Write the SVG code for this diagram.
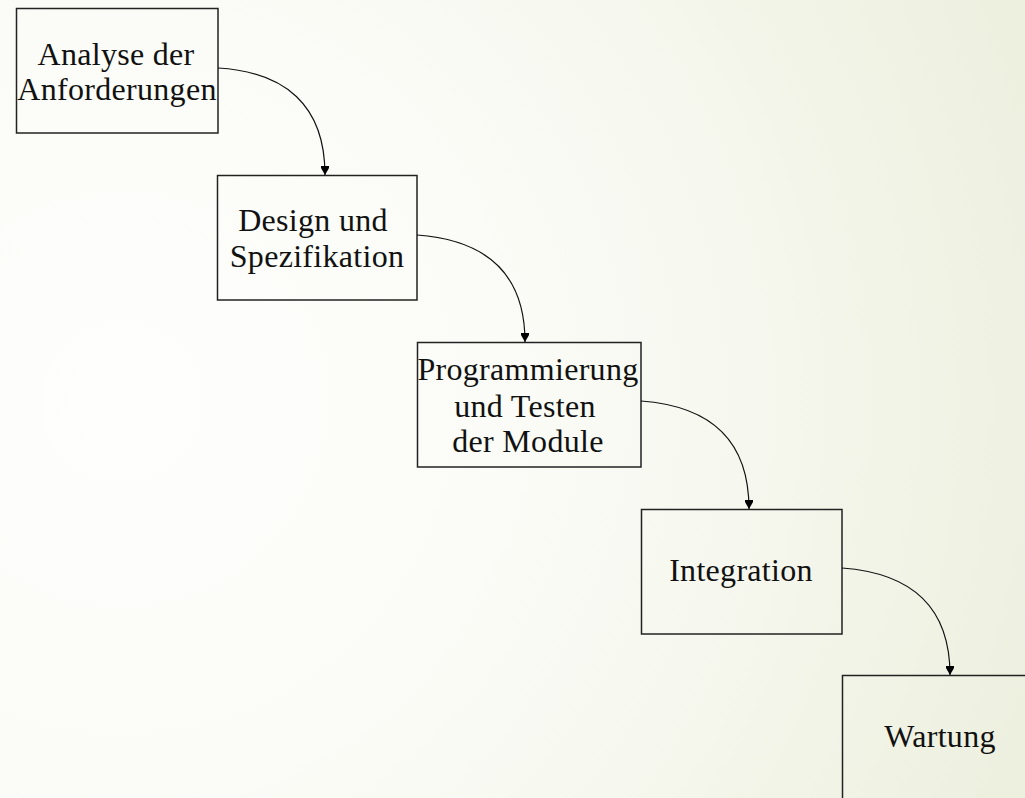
<svg xmlns="http://www.w3.org/2000/svg" width="1025" height="798" viewBox="0 0 1025 798">
<defs>
<radialGradient id="bg" gradientUnits="userSpaceOnUse" cx="120" cy="400" r="960">
<stop offset="0" stop-color="#fefefd"/>
<stop offset="0.4" stop-color="#fbfcf7"/>
<stop offset="0.7" stop-color="#f5f6ec"/>
<stop offset="1" stop-color="#edf0df"/>
</radialGradient>
<marker id="arr" markerWidth="10" markerHeight="10" refX="9" refY="5" orient="auto" markerUnits="userSpaceOnUse" viewBox="0 0 10 10">
<path d="M0,1 L2,1 L9,5 L2,9 L0,9 Z" fill="#000"/>
</marker>
<style>
.box{fill:none;stroke:#222;stroke-width:1.5}
.lbl{font-family:"Liberation Serif","Times New Roman",serif;font-size:32px;letter-spacing:0.3px;fill:#111;text-anchor:middle}
.edge{fill:none;stroke:#111;stroke-width:1.2}
</style>
</defs>
<rect x="0" y="0" width="1025" height="798" fill="url(#bg)"/>
<g id="n1"><rect class="box" x="16.5" y="8.5" width="201.5" height="124.5"/>
<text class="lbl" x="116" y="65">Analyse der</text><text class="lbl" x="117" y="100">Anforderungen</text></g>
<g id="n2"><rect class="box" x="217.5" y="175.5" width="199.5" height="124.5"/>
<text class="lbl" x="313" y="231">Design und</text><text class="lbl" x="317" y="267">Spezifikation</text></g>
<g id="n3"><rect class="box" x="417.5" y="342.5" width="223.5" height="124.5"/>
<text class="lbl" x="528" y="380">Programmierung</text><text class="lbl" x="525" y="417">und Testen</text><text class="lbl" x="528" y="452">der Module</text></g>
<g id="n4"><rect class="box" x="641.5" y="509.5" width="200.5" height="124.5"/>
<text class="lbl" x="741" y="581">Integration</text></g>
<g id="n5"><rect class="box" x="842.5" y="675.5" width="200" height="130"/>
<text class="lbl" x="940" y="747">Wartung</text></g>
<g id="connectors">
<path class="edge" marker-end="url(#arr)" d="M218,68 C285,72 325,105 325,175"/>
<path class="edge" marker-end="url(#arr)" d="M417,235 C485,240 525,272 525,342"/>
<path class="edge" marker-end="url(#arr)" d="M641,401 C709,406 749,439 749,509"/>
<path class="edge" marker-end="url(#arr)" d="M842,568 C910,573 950,606 950,675"/>
</g>
</svg>
